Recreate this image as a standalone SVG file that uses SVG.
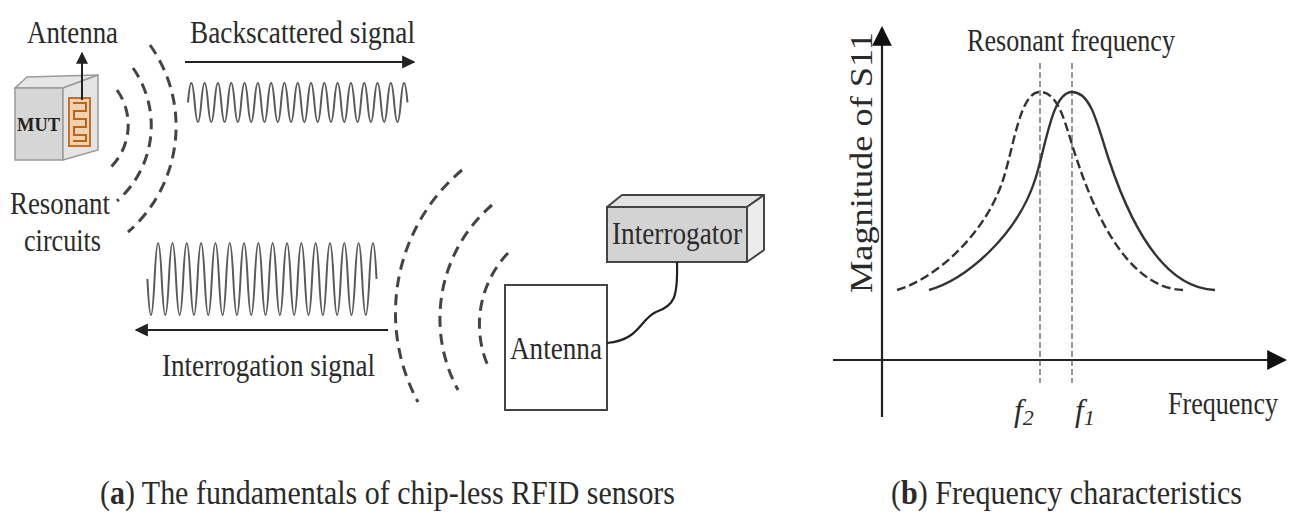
<svg xmlns="http://www.w3.org/2000/svg" width="1299" height="516" viewBox="0 0 1299 516">
  <defs>
    <style>
      .lbl { font-family: "Liberation Serif", "Times New Roman", serif; font-size: 31px; fill: #2a2a2a; }
      .cap { font-family: "Liberation Serif", "Times New Roman", serif; font-size: 34px; fill: #2a2a2a; }
      .wave { fill: none; stroke: #5a5a5a; stroke-width: 2; }
      .arc { fill: none; stroke: #444; stroke-width: 3; stroke-dasharray: 11 7; }
      .axis { fill: none; stroke: #222; stroke-width: 2.2; }
      .curve { fill: none; stroke: #333; stroke-width: 2.4; }
      .guide { fill: none; stroke: #555; stroke-width: 1.2; stroke-dasharray: 6 3; }
    </style>
    <marker id="head" viewBox="0 0 10 10" refX="9" refY="5" markerWidth="6" markerHeight="6" orient="auto-start-reverse" markerUnits="strokeWidth">
      <path d="M0,0 L10,5 L0,10 z" fill="#222"/>
    </marker>
    <marker id="axhead" viewBox="0 0 10 10" refX="9" refY="5" markerWidth="9" markerHeight="9" orient="auto" markerUnits="strokeWidth">
      <path d="M0,0 L10,5 L0,10 z" fill="#111"/>
    </marker>
    <!-- shared resonance peak, drawn dashed for f2 and solid (shifted) for f1 -->
    <path id="peak" d="M897,290 C935,279 985,235 1003,180 C1014,146 1020,92 1040,92 C1060,92 1066,128 1077,160 C1092,205 1125,288 1183,290"/>
  </defs>

  <rect width="1299" height="516" fill="#ffffff"/>

  <!-- chip-less tag: MUT block with resonant circuit antenna -->
  <g id="tag">
    <polygon points="15,88 63,88 98,75 27,77" fill="#e6e6e6" stroke="#9a9a9a" stroke-width="1.5"/>
    <polygon points="15,88 63,88 63,160 15,160" fill="#d6d6d6" stroke="#9a9a9a" stroke-width="1.5"/>
    <polygon points="63,88 98,75 98,150 63,160" fill="#e4e4e4" stroke="#9a9a9a" stroke-width="1.5"/>
    <rect x="69" y="98" width="21" height="48" fill="#f4d2ad" stroke="#c0702c" stroke-width="2"/>
    <path d="M73,103 H86 V111 H74 V119 H86 V127 H74 V135 H86 V141 H73" fill="none" stroke="#b8661f" stroke-width="2"/>
    <text x="17" y="131" font-family="Liberation Serif, serif" font-weight="bold" font-size="19" fill="#222" textLength="43" lengthAdjust="spacingAndGlyphs">MUT</text>
    <line x1="82" y1="100" x2="82" y2="53" stroke="#222" stroke-width="2" marker-end="url(#head)"/>
    <text class="lbl" x="27" y="43" textLength="91" lengthAdjust="spacingAndGlyphs">Antenna</text>
    <text class="lbl" x="10" y="214" textLength="100" lengthAdjust="spacingAndGlyphs">Resonant</text>
    <text class="lbl" x="24" y="251" textLength="77" lengthAdjust="spacingAndGlyphs">circuits</text>
  </g>

  <!-- reader: antenna and interrogator -->
  <g id="reader-antenna">
    <rect x="505" y="285" width="102" height="125" fill="#ffffff" stroke="#444" stroke-width="2"/>
    <text class="lbl" x="510" y="359" textLength="92" lengthAdjust="spacingAndGlyphs">Antenna</text>
  </g>
  <g id="interrogator">
    <polygon points="607,207 622,195 764,195 747,207" fill="#e2e2e2" stroke="#444" stroke-width="2" stroke-linejoin="round"/>
    <polygon points="747,207 764,195 764,250 747,262" fill="#ececec" stroke="#444" stroke-width="2" stroke-linejoin="round"/>
    <rect x="607" y="207" width="140" height="55" fill="#d3d3d3" stroke="#444" stroke-width="2"/>
    <text class="lbl" x="612" y="244" textLength="130" lengthAdjust="spacingAndGlyphs">Interrogator</text>
  </g>

  <!-- signals, wavefronts and cable -->
  <g id="connectors">
    <path d="M677,262 C678,298 674,306 656,312 C640,319 640,340 607,343" fill="none" stroke="#222" stroke-width="2.2"/>

    <!-- wavefronts leaving the tag -->
    <path class="arc" d="M117,90 A60,60 0 0 1 110,168"/>
    <path class="arc" d="M133,68 A100,100 0 0 1 117,201"/>
    <path class="arc" d="M150,45 A140,140 0 0 1 128,232"/>

    <!-- wavefronts leaving the reader antenna -->
    <path class="arc" d="M462,170 A187,187 0 0 0 418,402"/>
    <path class="arc" d="M492,205 A150,150 0 0 0 458,390"/>
    <path class="arc" d="M508,253 A104,104 0 0 0 488,366"/>

    <!-- backscattered signal -->
    <line x1="185" y1="62" x2="414" y2="62" stroke="#222" stroke-width="2.2" marker-end="url(#head)"/>
    <text class="lbl" x="190" y="43" textLength="225" lengthAdjust="spacingAndGlyphs">Backscattered signal</text>
    <path class="wave" d="M188,102.5 q3.33,-39 6.65,0 t6.65,0 t6.65,0 t6.65,0 t6.65,0 t6.65,0 t6.65,0 t6.65,0 t6.65,0 t6.65,0 t6.65,0 t6.65,0 t6.65,0 t6.65,0 t6.65,0 t6.65,0 t6.65,0 t6.65,0 t6.65,0 t6.65,0 t6.65,0 t6.65,0 t6.65,0 t6.65,0 t6.65,0 t6.65,0 t6.65,0 t6.65,0 t6.65,0 t6.65,0 t6.65,0 t6.65,0 t6.65,0"/>

    <!-- interrogation signal -->
    <path class="wave" d="M147.4,279 q3.58,72 7.16,0 t7.16,0 t7.16,0 t7.16,0 t7.16,0 t7.16,0 t7.16,0 t7.16,0 t7.16,0 t7.16,0 t7.16,0 t7.16,0 t7.16,0 t7.16,0 t7.16,0 t7.16,0 t7.16,0 t7.16,0 t7.16,0 t7.16,0 t7.16,0 t7.16,0 t7.16,0 t7.16,0 t7.16,0 t7.16,0 t7.16,0 t7.16,0 t7.16,0 t7.16,0 t7.16,0 t7.16,0"/>
    <line x1="388" y1="330" x2="136" y2="330" stroke="#222" stroke-width="2.2" marker-end="url(#head)"/>
    <text class="lbl" x="162" y="376" textLength="213" lengthAdjust="spacingAndGlyphs">Interrogation signal</text>
  </g>

  <!-- frequency characteristics plot -->
  <g id="plot">
    <line class="axis" x1="882" y1="417" x2="882" y2="28" marker-end="url(#axhead)"/>
    <line class="axis" x1="833" y1="360" x2="1285" y2="360" marker-end="url(#axhead)"/>
    <line class="guide" x1="1040" y1="63" x2="1040" y2="383"/>
    <line class="guide" x1="1072" y1="63" x2="1072" y2="383"/>
    <use href="#peak" class="curve" stroke-dasharray="9 4"/>
    <use href="#peak" class="curve" transform="translate(32,0)"/>
    <text class="lbl" x="967" y="51" textLength="208" lengthAdjust="spacingAndGlyphs">Resonant frequency</text>
    <text class="lbl" transform="translate(872,293) rotate(-90)" textLength="261" lengthAdjust="spacingAndGlyphs">Magnitude of S11</text>
    <text class="lbl" x="1168" y="414" textLength="110" lengthAdjust="spacingAndGlyphs">Frequency</text>
    <text class="lbl" x="1014" y="421" font-size="34" font-style="italic">f<tspan font-size="22" dy="4">2</tspan></text>
    <text class="lbl" x="1075" y="421" font-size="34" font-style="italic">f<tspan font-size="22" dy="4">1</tspan></text>
  </g>

  <!-- captions -->
  <g id="captions">
    <text class="cap" x="100" y="504" textLength="575" lengthAdjust="spacingAndGlyphs">(<tspan font-weight="bold">a</tspan>) The fundamentals of chip-less RFID sensors</text>
    <text class="cap" x="891" y="504" textLength="351" lengthAdjust="spacingAndGlyphs">(<tspan font-weight="bold">b</tspan>) Frequency characteristics</text>
  </g>
</svg>
